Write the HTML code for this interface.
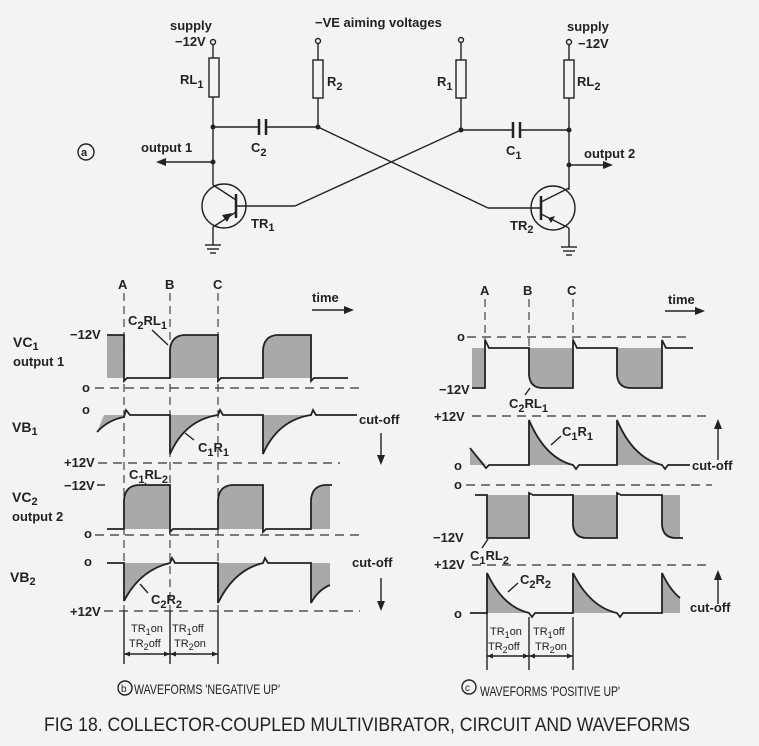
<!DOCTYPE html>
<html><head><meta charset="utf-8"><style>
html,body{margin:0;padding:0;background:#f3f3f1;}
svg{display:block;}
text{font-family:"Liberation Sans",sans-serif;font-weight:bold;fill:#222;font-size:13px;}
.w{fill:none;stroke:#222;stroke-width:1.8;}
.l{stroke:#222;stroke-width:1.4;fill:none;}
.d{stroke:#333;stroke-width:1.3;stroke-dasharray:9,6;fill:none;}
.v{stroke:#333;stroke-width:1.1;stroke-dasharray:8,5;fill:none;}
.sh{fill:#a9a9a9;stroke:none;}
.cap{font-weight:normal;font-family:"Liberation Sans Narrow","Liberation Sans",sans-serif;}
</style></head><body>
<svg width="759" height="746" viewBox="0 0 759 746" xmlns="http://www.w3.org/2000/svg">
<!-- ===== Circuit ===== -->
<circle cx="86" cy="152" r="8" class="l"/><text x="81" y="156" style="font-size:11px">a</text>
<circle cx="213" cy="42" r="2.5" class="l"/>
<line x1="213" y1="45" x2="213" y2="58" class="l"/>
<rect x="209" y="58" width="10" height="39" class="l"/>
<line x1="213" y1="97" x2="213" y2="185" class="l"/>
<line x1="213" y1="127" x2="259" y2="127" class="l"/>
<line x1="259" y1="119" x2="259" y2="135" stroke="#222" stroke-width="2.5"/>
<line x1="266" y1="119" x2="266" y2="135" stroke="#222" stroke-width="2.5"/>
<line x1="266" y1="127" x2="318" y2="127" class="l"/>
<circle cx="213" cy="127" r="2.5" fill="#222"/>
<circle cx="213" cy="162" r="2.5" fill="#222"/>
<line x1="213" y1="162" x2="162" y2="162" class="l"/>
<path d="M156,162 L166,158 L166,166 Z" fill="#222"/>
<circle cx="318" cy="41" r="2.5" class="l"/>
<line x1="318" y1="44" x2="318" y2="60" class="l"/>
<rect x="313" y="60" width="10" height="38" class="l"/>
<line x1="318" y1="98" x2="318" y2="127" class="l"/>
<circle cx="318" cy="127" r="2.5" fill="#222"/>
<circle cx="224" cy="206" r="22" class="l" stroke-width="1.8"/>
<line x1="236" y1="194" x2="236" y2="218" stroke="#222" stroke-width="2.5"/>
<line x1="213" y1="185" x2="236" y2="200" class="l"/>
<line x1="236" y1="212" x2="213" y2="227" class="l"/>
<path d="M232,213 L222,215 L227,222 Z" fill="#222"/>
<line x1="213" y1="227" x2="213" y2="245" class="l"/>
<line x1="205" y1="245" x2="221" y2="245" class="l"/><line x1="207" y1="249" x2="219" y2="249" class="l"/><line x1="210" y1="253" x2="216" y2="253" class="l"/>
<line x1="236" y1="206" x2="295" y2="206" class="l"/>
<line x1="295" y1="206" x2="461" y2="130" class="l"/>
<line x1="318" y1="127" x2="488" y2="208" class="l"/>
<line x1="488" y1="208" x2="541" y2="208" class="l"/>
<circle cx="461" cy="40" r="2.5" class="l"/>
<line x1="461" y1="43" x2="461" y2="60" class="l"/>
<rect x="456" y="60" width="10" height="38" class="l"/>
<line x1="461" y1="98" x2="461" y2="130" class="l"/>
<circle cx="461" cy="130" r="2.5" fill="#222"/>
<line x1="461" y1="130" x2="513" y2="130" class="l"/>
<line x1="513" y1="122" x2="513" y2="138" stroke="#222" stroke-width="2.5"/>
<line x1="520" y1="122" x2="520" y2="138" stroke="#222" stroke-width="2.5"/>
<line x1="520" y1="130" x2="569" y2="130" class="l"/>
<circle cx="569" cy="42" r="2.5" class="l"/>
<line x1="569" y1="45" x2="569" y2="60" class="l"/>
<rect x="564" y="60" width="10" height="38" class="l"/>
<line x1="569" y1="98" x2="569" y2="190" class="l"/>
<circle cx="569" cy="130" r="2.5" fill="#222"/>
<circle cx="569" cy="165" r="2.5" fill="#222"/>
<line x1="569" y1="165" x2="606" y2="165" class="l"/>
<path d="M613,165 L603,161 L603,169 Z" fill="#222"/>
<circle cx="553" cy="208" r="22" class="l" stroke-width="1.8"/>
<line x1="541" y1="196" x2="541" y2="220" stroke="#222" stroke-width="2.5"/>
<line x1="541" y1="202" x2="569" y2="188" class="l"/>
<line x1="541" y1="214" x2="569" y2="228" class="l"/>
<path d="M548,218 L555,216 L551,223 Z" fill="#222"/>
<line x1="569" y1="228" x2="569" y2="247" class="l"/>
<line x1="561" y1="247" x2="577" y2="247" class="l"/><line x1="563" y1="251" x2="575" y2="251" class="l"/><line x1="566" y1="255" x2="572" y2="255" class="l"/>
<text x="170" y="30">supply</text><text x="175" y="46">−12V</text>
<text x="315" y="27">−VE aiming voltages</text>
<text x="567" y="31">supply</text><text x="578" y="48">−12V</text>
<text x="180" y="84">RL<tspan dy="4" style="font-size:11px">1</tspan></text>
<text x="327" y="86">R<tspan dy="4" style="font-size:11px">2</tspan></text>
<text x="437" y="86">R<tspan dy="4" style="font-size:11px">1</tspan></text>
<text x="577" y="86">RL<tspan dy="4" style="font-size:11px">2</tspan></text>
<text x="251" y="152">C<tspan dy="4" style="font-size:11px">2</tspan></text>
<text x="506" y="155">C<tspan dy="4" style="font-size:11px">1</tspan></text>
<text x="141" y="152">output 1</text>
<text x="584" y="158">output 2</text>
<text x="251" y="228">TR<tspan dy="3" style="font-size:11px">1</tspan></text>
<text x="510" y="230">TR<tspan dy="3" style="font-size:11px">2</tspan></text>

<!-- ===== Panel b ===== -->
<text x="118" y="289">A</text><text x="165" y="289">B</text><text x="213" y="289">C</text>
<line x1="124" y1="293" x2="124" y2="611" class="v"/>
<line x1="170" y1="293" x2="170" y2="611" class="v"/>
<line x1="218" y1="293" x2="218" y2="611" class="v"/>
<text x="312" y="302">time</text>
<line x1="312" y1="310" x2="348" y2="310" class="l"/><path d="M354,310 L344,306 L344,314 Z" fill="#222"/>
<text x="128" y="325">C<tspan dy="4" style="font-size:11px">2</tspan><tspan dy="-4">RL</tspan><tspan dy="4" style="font-size:11px">1</tspan></text>
<line x1="152" y1="330" x2="168" y2="345" class="l"/>
<text x="70" y="339">−12V</text>
<text x="13" y="347" style="font-size:14px">VC<tspan dy="3" style="font-size:11px">1</tspan></text>
<text x="13" y="366">output 1</text>
<text x="82" y="392">o</text>
<path class="sh" d="M107,335 H124 V378 H107 Z M170,378 V350 Q171,336 184,335 H218 V378 Z M263,378 V350 Q264,336 277,335 H311 V378 Z"/>
<path class="w" d="M107,335 H124 V381 L127,378 H170 V350 Q171,336 184,335 H218 V381 L221,378 H263 V350 Q264,336 277,335 H311 V381 L314,378 H348"/>
<line x1="95" y1="388" x2="365" y2="388" class="d"/>
<text x="82" y="414">o</text>
<text x="12" y="432" style="font-size:14px">VB<tspan dy="3" style="font-size:11px">1</tspan></text>
<path class="sh" d="M97,432 Q108,420 124,417 V415 H104 Z M170,415 V454 Q185,420 218,415 Z M263,415 V454 Q278,420 311,415 Z"/>
<path class="w" d="M97,432 Q108,420 124,417 L126,410 L130,415 H170 V454 Q185,420 218,415 L220,410 L223,415 H263 V454 Q278,420 311,415 L313,410 L316,415 H357"/>
<text x="359" y="424">cut-off</text>
<line x1="381" y1="433" x2="381" y2="458" class="l"/><path d="M381,465 L377,455 L385,455 Z" fill="#222"/>
<text x="198" y="452">C<tspan dy="4" style="font-size:11px">1</tspan><tspan dy="-4">R</tspan><tspan dy="4" style="font-size:11px">1</tspan></text>
<line x1="194" y1="440" x2="185" y2="433" class="l"/>
<text x="64" y="467">+12V</text>
<line x1="98" y1="463" x2="340" y2="463" class="d"/>
<text x="129" y="479">C<tspan dy="4" style="font-size:11px">1</tspan><tspan dy="-4">RL</tspan><tspan dy="4" style="font-size:11px">2</tspan></text>
<line x1="146" y1="483" x2="143" y2="487" class="l"/>
<text x="64" y="490">−12V</text>
<line x1="97" y1="485" x2="105" y2="485" class="l"/>
<text x="12" y="502" style="font-size:14px">VC<tspan dy="3" style="font-size:11px">2</tspan></text>
<text x="12" y="521">output 2</text>
<text x="84" y="538">o</text>
<path class="sh" d="M124,529 V500 Q125,486 138,485 H170 V529 Z M218,529 V500 Q219,486 232,485 H263 V529 Z M311,529 V500 Q312,486 325,485 H330 V529 Z"/>
<path class="w" d="M107,529 H124 V500 Q125,486 138,485 H170 V532 L173,529 H218 V500 Q219,486 232,485 H263 V532 L266,529 H311 V500 Q312,486 325,485 H332"/>
<line x1="95" y1="535" x2="365" y2="535" class="d"/>
<text x="84" y="566">o</text>
<text x="10" y="582" style="font-size:14px">VB<tspan dy="3" style="font-size:11px">2</tspan></text>
<path class="sh" d="M124,563 V601 Q140,570 170,563 Z M218,563 V603 Q234,570 263,563 Z M311,563 V603 Q318,590 330,585 V563 Z"/>
<path class="w" d="M107,563 H124 V601 Q140,570 170,563 L172,558 L175,563 H218 V603 Q234,570 263,563 L265,558 L268,563 H311 V603 Q318,590 330,585"/>
<text x="151" y="604">C<tspan dy="4" style="font-size:11px">2</tspan><tspan dy="-4">R</tspan><tspan dy="4" style="font-size:11px">2</tspan></text>
<line x1="148" y1="593" x2="140" y2="584" class="l"/>
<text x="352" y="567">cut-off</text>
<line x1="381" y1="578" x2="381" y2="604" class="l"/><path d="M381,611 L377,601 L385,601 Z" fill="#222"/>
<text x="70" y="616">+12V</text>
<line x1="104" y1="611" x2="360" y2="611" class="d"/>
<line x1="124" y1="611" x2="124" y2="664" class="l" stroke-width="1"/>
<line x1="170" y1="611" x2="170" y2="664" class="l" stroke-width="1"/>
<line x1="218" y1="611" x2="218" y2="664" class="l" stroke-width="1"/>
<text x="131" y="632" style="font-size:11px;font-weight:normal">TR<tspan dy="3" style="font-size:9px">1</tspan><tspan dy="-3">on</tspan></text>
<text x="129" y="647" style="font-size:11px;font-weight:normal">TR<tspan dy="3" style="font-size:9px">2</tspan><tspan dy="-3">off</tspan></text>
<text x="172" y="632" style="font-size:11px;font-weight:normal">TR<tspan dy="3" style="font-size:9px">1</tspan><tspan dy="-3">off</tspan></text>
<text x="174" y="647" style="font-size:11px;font-weight:normal">TR<tspan dy="3" style="font-size:9px">2</tspan><tspan dy="-3">on</tspan></text>
<line x1="124" y1="654" x2="218" y2="654" class="l" stroke-width="1"/>
<path d="M170,654 l-6,-2.5 v5 Z M170,654 l6,-2.5 v5 Z M218,654 l-6,-2.5 v5 Z M124,654 l6,-2.5 v5 Z" fill="#222"/>
<circle cx="125" cy="688" r="7" class="l" stroke-width="1.1"/><text x="121" y="692" style="font-size:10px;font-weight:normal">b</text>
<text x="134" y="694" class="cap" style="font-size:14px" textLength="146" lengthAdjust="spacingAndGlyphs">WAVEFORMS 'NEGATIVE UP'</text>

<!-- ===== Panel c ===== -->
<text x="480" y="295">A</text><text x="523" y="295">B</text><text x="567" y="295">C</text>
<line x1="485" y1="299" x2="485" y2="340" class="v"/>
<line x1="529" y1="299" x2="529" y2="348" class="v"/>
<line x1="573" y1="299" x2="573" y2="340" class="v"/>
<text x="668" y="304">time</text>
<line x1="665" y1="311" x2="699" y2="311" class="l"/><path d="M705,311 L695,307 L695,315 Z" fill="#222"/>
<text x="457" y="341">o</text>
<line x1="467" y1="337" x2="692" y2="337" class="d"/>
<path class="sh" d="M472,348 H485 V388 H472 Z M529,348 V375 Q530,388 543,388 H573 V348 Z M617,348 V375 Q618,388 631,388 H662 V348 Z"/>
<path class="w" d="M472,388 H485 V340 L489,348 H529 V375 Q530,388 543,388 H573 V340 L577,348 H617 V375 Q618,388 631,388 H662 V340 L666,348 H693"/>
<text x="439" y="394">−12V</text>
<text x="509" y="408">C<tspan dy="4" style="font-size:11px">2</tspan><tspan dy="-4">RL</tspan><tspan dy="4" style="font-size:11px">1</tspan></text>
<line x1="525" y1="395" x2="530" y2="388" class="l"/>
<text x="434" y="421">+12V</text>
<line x1="472" y1="416" x2="712" y2="416" class="d"/>
<text x="562" y="436">C<tspan dy="4" style="font-size:11px">1</tspan><tspan dy="-4">R</tspan><tspan dy="4" style="font-size:11px">1</tspan></text>
<line x1="561" y1="436" x2="551" y2="445" class="l"/>
<path class="sh" d="M470,448 L486,465 H470 Z M529,465 V420 Q545,458 573,465 Z M617,465 V420 Q633,458 662,465 Z"/>
<path class="w" d="M470,448 L486,468 L489,465 H529 V420 Q545,458 573,465 L576,469 L579,465 H617 V420 Q633,458 662,465 L665,469 L668,465 H690"/>
<text x="454" y="470">o</text>
<text x="692" y="470">cut-off</text>
<line x1="718" y1="460" x2="718" y2="426" class="l"/><path d="M718,419 L714,429 L722,429 Z" fill="#222"/>
<text x="454" y="489">o</text>
<line x1="466" y1="485" x2="712" y2="485" class="d"/>
<path class="sh" d="M487,495 H529 V538 H487 Z M573,495 V525 Q574,538 587,538 H617 V495 Z M662,495 V525 Q663,538 676,538 H680 V495 Z"/>
<path class="w" d="M475,495 H487 V538 H529 V493 L533,495 H573 V525 Q574,538 587,538 H617 V493 L621,495 H662 V525 Q663,538 676,538 H683"/>
<text x="433" y="542">−12V</text>
<text x="470" y="560">C<tspan dy="4" style="font-size:11px">1</tspan><tspan dy="-4">RL</tspan><tspan dy="4" style="font-size:11px">2</tspan></text>
<line x1="482" y1="548" x2="488" y2="539" class="l"/>
<text x="434" y="569">+12V</text>
<line x1="472" y1="565" x2="712" y2="565" class="d"/>
<text x="520" y="584">C<tspan dy="4" style="font-size:11px">2</tspan><tspan dy="-4">R</tspan><tspan dy="4" style="font-size:11px">2</tspan></text>
<line x1="518" y1="583" x2="508" y2="592" class="l"/>
<path class="sh" d="M487,613 V573 Q503,607 529,613 Z M573,613 V573 Q590,607 617,613 Z M662,613 V573 Q670,590 680,598 V613 Z"/>
<path class="w" d="M470,613 H487 V573 Q503,607 529,613 L532,617 L535,613 H573 V573 Q590,607 617,613 L620,617 L623,613 H662 V573 Q670,590 680,598"/>
<text x="454" y="618">o</text>
<text x="690" y="612">cut-off</text>
<line x1="718" y1="604" x2="718" y2="577" class="l"/><path d="M718,570 L714,580 L722,580 Z" fill="#222"/>
<line x1="487" y1="613" x2="487" y2="670" class="l" stroke-width="1"/>
<line x1="529" y1="617" x2="529" y2="670" class="l" stroke-width="1"/>
<line x1="573" y1="617" x2="573" y2="670" class="l" stroke-width="1"/>
<text x="490" y="635" style="font-size:11px;font-weight:normal">TR<tspan dy="3" style="font-size:9px">1</tspan><tspan dy="-3">on</tspan></text>
<text x="488" y="650" style="font-size:11px;font-weight:normal">TR<tspan dy="3" style="font-size:9px">2</tspan><tspan dy="-3">off</tspan></text>
<text x="533" y="635" style="font-size:11px;font-weight:normal">TR<tspan dy="3" style="font-size:9px">1</tspan><tspan dy="-3">off</tspan></text>
<text x="535" y="650" style="font-size:11px;font-weight:normal">TR<tspan dy="3" style="font-size:9px">2</tspan><tspan dy="-3">on</tspan></text>
<line x1="487" y1="656" x2="573" y2="656" class="l" stroke-width="1"/>
<path d="M529,656 l-6,-2.5 v5 Z M529,656 l6,-2.5 v5 Z M573,656 l-6,-2.5 v5 Z M487,656 l6,-2.5 v5 Z" fill="#222"/>
<circle cx="469" cy="687" r="7" class="l" stroke-width="1.1"/><text x="465" y="691" style="font-size:10px;font-weight:normal">c</text>
<text x="480" y="696" class="cap" style="font-size:14px" textLength="140" lengthAdjust="spacingAndGlyphs">WAVEFORMS 'POSITIVE UP'</text>

<text x="44" y="731" class="cap" style="font-size:19px" textLength="646" lengthAdjust="spacingAndGlyphs">FIG 18.   COLLECTOR-COUPLED MULTIVIBRATOR, CIRCUIT AND WAVEFORMS</text>
</svg>
</body></html>
